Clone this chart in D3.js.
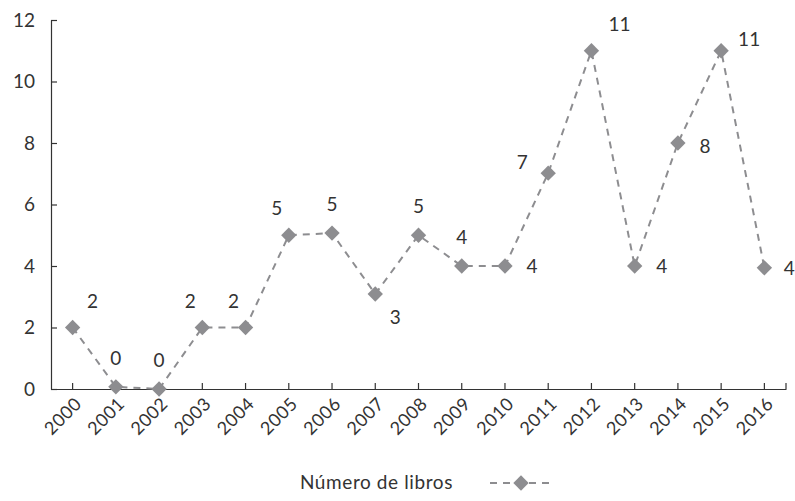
<!DOCTYPE html>
<html>
<head>
<meta charset="utf-8">
<script src="https://cdn.jsdelivr.net/npm/d3@7"></script>
<style>
  body { margin: 0; background: #fff; }
  svg text { font-family: Lato, "Open Sans", sans-serif; fill: #333; }
</style>
</head>
<body>
<div id="chart"></div>
<script>
// data (plotted positions are slightly off the integers)
var years = ["2000","2001","2002","2003","2004","2005","2006","2007","2008",
             "2009","2010","2011","2012","2013","2014","2015","2016"];
var plotted = [2, 0.07, 0, 2, 2, 5, 5.07, 3.09, 5, 4, 4, 7.02, 11, 4, 8, 11, 3.94];
var labels = [2, 0, 0, 2, 2, 5, 5, 3, 5, 4, 4, 7, 11, 4, 8, 11, 4];
// where each value label sits: a = above, ur = upper right, ul = upper left, r = right, lr = lower right
var labelPos = ["ur","a","a","ul","ul","ul","a","lr","a","a","r","ul","ur","r","r","ur","r"];
var yTicks = [0, 2, 4, 6, 8, 10, 12];
var seriesName = "Número de libros";

var width = 795, height = 501;
var margin = { top: 20, right: 9, bottom: 112, left: 51 };
var grey = "#8d8d90";

var svg = d3.select("#chart").append("svg")
  .attr("width", width)
  .attr("height", height);

var x = d3.scaleBand()
  .domain(years)
  .range([margin.left, width - margin.right]);

var y = d3.scaleLinear()
  .domain([0, 12])
  .range([height - margin.bottom, margin.top]);

var cx = function (d, i) { return x(years[i]) + x.bandwidth() / 2; };

// y axis, ticks pointing inwards
var yAxis = svg.append("g")
  .attr("transform", "translate(" + margin.left + ",0)")
  .call(d3.axisLeft(y).tickValues(yTicks).tickSizeInner(-6).tickSizeOuter(0).tickPadding(16));
yAxis.selectAll("path, line").attr("stroke", "#333").attr("stroke-width", 1.2);
yAxis.selectAll("text").attr("font-size", 19).attr("font-family", "Lato").attr("fill", "#333");

// x axis, ticks pointing inwards
var xAxis = svg.append("g")
  .attr("transform", "translate(0," + y(0) + ")")
  .call(d3.axisBottom(x).tickSizeInner(-6).tickSizeOuter(0).tickFormat(""));
xAxis.selectAll("path, line").attr("stroke", "#333").attr("stroke-width", 1.2);
// small closing tick at the right end
xAxis.append("line")
  .attr("x1", width - margin.right).attr("x2", width - margin.right)
  .attr("y1", 0).attr("y2", -6)
  .attr("stroke", "#333").attr("stroke-width", 1.2);

svg.append("g").selectAll("text")
  .data(years)
  .enter().append("text")
  .attr("text-anchor", "end")
  .attr("font-size", 18)
  .attr("letter-spacing", 0.5)
  .attr("transform", function (d) {
    return "translate(" + (x(d) + x.bandwidth() / 2 + 10) + "," + (y(0) + 16) + ") rotate(-45)";
  })
  .text(function (d) { return d; });

// dashed line
var line = d3.line()
  .x(cx)
  .y(function (d) { return y(d); });

svg.append("path")
  .datum(plotted)
  .attr("d", line)
  .attr("fill", "none")
  .attr("stroke", grey)
  .attr("stroke-width", 2)
  .attr("stroke-dasharray", "7,6");

// diamonds
var diamond = d3.symbol().type(d3.symbolDiamond2).size(150);
svg.append("g").selectAll("path")
  .data(plotted)
  .enter().append("path")
  .attr("d", diamond)
  .attr("fill", grey)
  .attr("transform", function (d, i) { return "translate(" + cx(d, i) + "," + y(d) + ")"; });

// value labels
var offsets = {
  a:  [0, -22],
  ur: [20, -20],
  ul: [-12, -20],
  r:  [27, 7],
  lr: [20, 30]
};
svg.append("g").selectAll("text")
  .data(plotted)
  .enter().append("text")
  .attr("text-anchor", "middle")
  .attr("font-size", 19)
  .attr("x", function (d, i) {
    var o = offsets[labelPos[i]];
    var dx = o[0];
    if (labels[i] >= 10) dx += 8;
    if (i === 11) dx = -26;
    if (i === 16) dx = 25;
    return cx(d, i) + dx;
  })
  .attr("y", function (d, i) {
    var o = offsets[labelPos[i]];
    var dy = o[1];
    if (i === 11) dy = -4;
    if (i === 14) dy = 10;
    if (i === 15) dy = -5;
    return y(d) + dy;
  })
  .text(function (d, i) { return labels[i]; });

// legend
var legend = svg.append("g").attr("transform", "translate(0,483)");
legend.append("text")
  .attr("x", 453)
  .attr("y", 6)
  .attr("text-anchor", "end")
  .attr("font-size", 19)
  .attr("letter-spacing", 0.6)
  .text(seriesName);
legend.append("line")
  .attr("x1", 490).attr("x2", 552)
  .attr("y1", 0).attr("y2", 0)
  .attr("stroke", grey)
  .attr("stroke-width", 2)
  .attr("stroke-dasharray", "7,6");
legend.append("path")
  .attr("d", diamond)
  .attr("fill", grey)
  .attr("transform", "translate(521,0)");
</script>
</body>
</html>
